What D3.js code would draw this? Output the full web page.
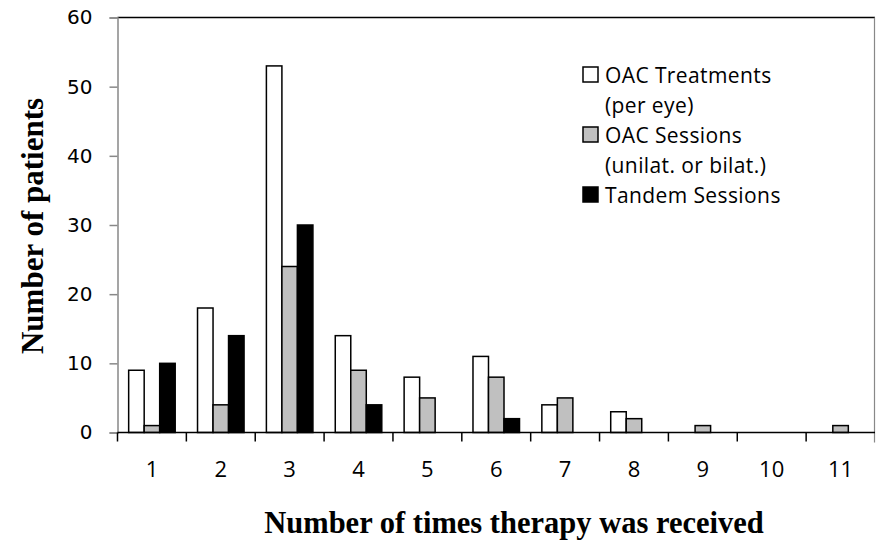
<!DOCTYPE html>
<html>
<head>
<meta charset="utf-8">
<script src="https://cdn.jsdelivr.net/npm/d3@7"></script>
<style>
  body { margin: 0; background: #fff; }
</style>
</head>
<body>
<div id="chart"></div>
<script>
var categories = ["1", "2", "3", "4", "5", "6", "7", "8", "9", "10", "11"];
var seriesNames = ["OAC Treatments", "OAC Sessions", "Tandem Sessions"];
var oacTreatments = [9, 18, 53, 14, 8, 11, 4, 3, 0, 0, 0];
var oacSessions = [1, 4, 24, 9, 5, 8, 5, 2, 1, 0, 1];
var tandemSessions = [10, 14, 30, 4, 0, 2, 0, 0, 0, 0, 0];
var yTicks = [0, 10, 20, 30, 40, 50, 60];
var legendLines = [
  ["OAC Treatments", "(per eye)"],
  ["OAC Sessions", "(unilat. or bilat.)"],
  ["Tandem Sessions"]
];
var colors = ["#ffffff", "#c0c0c0", "#000000"];

function init(){
	var w = 876, h = 546;
	var left = 117.5, right = 875, top = 17.5, bottom = 432.5;

	var svg = d3.select("#chart").append("svg")
		.attr("width", w).attr("height", h);

	var x = d3.scaleBand().domain(categories).range([left, right]).padding(0);
	var inner = d3.scaleBand().domain(seriesNames)
		.range([0, x.bandwidth()]).paddingInner(0).paddingOuter(0.72);
	var y = d3.scaleLinear().domain([0, 60]).range([bottom, top]);

	// top border
	svg.append("line")
		.attr("x1", left).attr("x2", right)
		.attr("y1", top).attr("y2", top)
		.attr("stroke", "#000").attr("stroke-width", 1.5);
	svg.append("line")
		.attr("x1", right - 0.5).attr("x2", right - 0.5)
		.attr("y1", top).attr("y2", bottom + 10)
		.attr("stroke", "#888").attr("stroke-width", 1.2);

	// y axis
	var yAxis = svg.append("g")
		.attr("transform", "translate(" + left + ",0)")
		.call(d3.axisLeft(y).tickValues(yTicks).tickSize(8).tickPadding(17));
	yAxis.select(".domain").attr("stroke", "#888").attr("stroke-width", 1.5);
	yAxis.selectAll(".tick line").attr("stroke", "#888").attr("stroke-width", 1.5);
	yAxis.selectAll("text")
		.attr("font-family", "DejaVu Sans").attr("font-size", 20).attr("fill", "#000");

	// bars
	var data = [];
	categories.forEach(function(c, i){
		[oacTreatments, oacSessions, tandemSessions].forEach(function(s, j){
			if (s[i] > 0) data.push({cat: c, ser: seriesNames[j], v: s[i], k: j});
		});
	});
	svg.selectAll("rect.bar")
		.data(data).enter().append("rect")
		.attr("class", "bar")
		.attr("x", function(d){ return x(d.cat) + inner(d.ser); })
		.attr("y", function(d){ return y(d.v); })
		.attr("width", inner.bandwidth())
		.attr("height", function(d){ return y(0) - y(d.v); })
		.attr("fill", function(d){ return colors[d.k]; })
		.attr("stroke", "#000").attr("stroke-width", 1.5);

	// x axis
	var xAxis = svg.append("g")
		.attr("transform", "translate(0," + bottom + ")");
	xAxis.append("line")
		.attr("x1", left).attr("x2", right)
		.attr("stroke", "#000").attr("stroke-width", 1.5);
	var edges = categories.map(function(c){ return x(c); });
	xAxis.selectAll("line.tk").data(edges).enter().append("line")
		.attr("class", "tk")
		.attr("x1", function(d){ return d; }).attr("x2", function(d){ return d; })
		.attr("y1", 0).attr("y2", 9)
		.attr("stroke", "#000").attr("stroke-width", 1.5);
	xAxis.selectAll("text").data(categories).enter().append("text")
		.attr("x", function(d){ return x(d) + x.bandwidth() / 2; })
		.attr("y", 44)
		.attr("text-anchor", "middle")
		.attr("font-family", "Open Sans").attr("font-size", 22)
		.text(function(d){ return d; });

	// axis titles
	svg.append("text")
		.attr("transform", "translate(43,226) rotate(-90)")
		.attr("text-anchor", "middle")
		.attr("font-family", "Liberation Serif").attr("font-weight", "bold")
		.attr("font-size", 31)
		.text("Number of patients");
	svg.append("text")
		.attr("x", 514).attr("y", 533)
		.attr("text-anchor", "middle")
		.attr("font-family", "Liberation Serif").attr("font-weight", "bold")
		.attr("font-size", 30.5)
		.text("Number of times therapy was received");

	// legend
	var legendY = [75, 135, 195];
	var lg = svg.append("g");
	legendLines.forEach(function(lines, i){
		lg.append("rect")
			.attr("x", 583).attr("y", legendY[i] - 8)
			.attr("width", 15).attr("height", 15)
			.attr("fill", colors[i]).attr("stroke", "#000").attr("stroke-width", 1.5);
		lines.forEach(function(t, j){
			lg.append("text")
				.attr("x", 605).attr("y", legendY[i] + 8 + j * 30)
				.attr("font-family", "Open Sans").attr("font-size", 21)
				.attr("letter-spacing", 0.4)
				.text(t);
		});
	});
}

window.onload = init;
</script>
</body>
</html>
